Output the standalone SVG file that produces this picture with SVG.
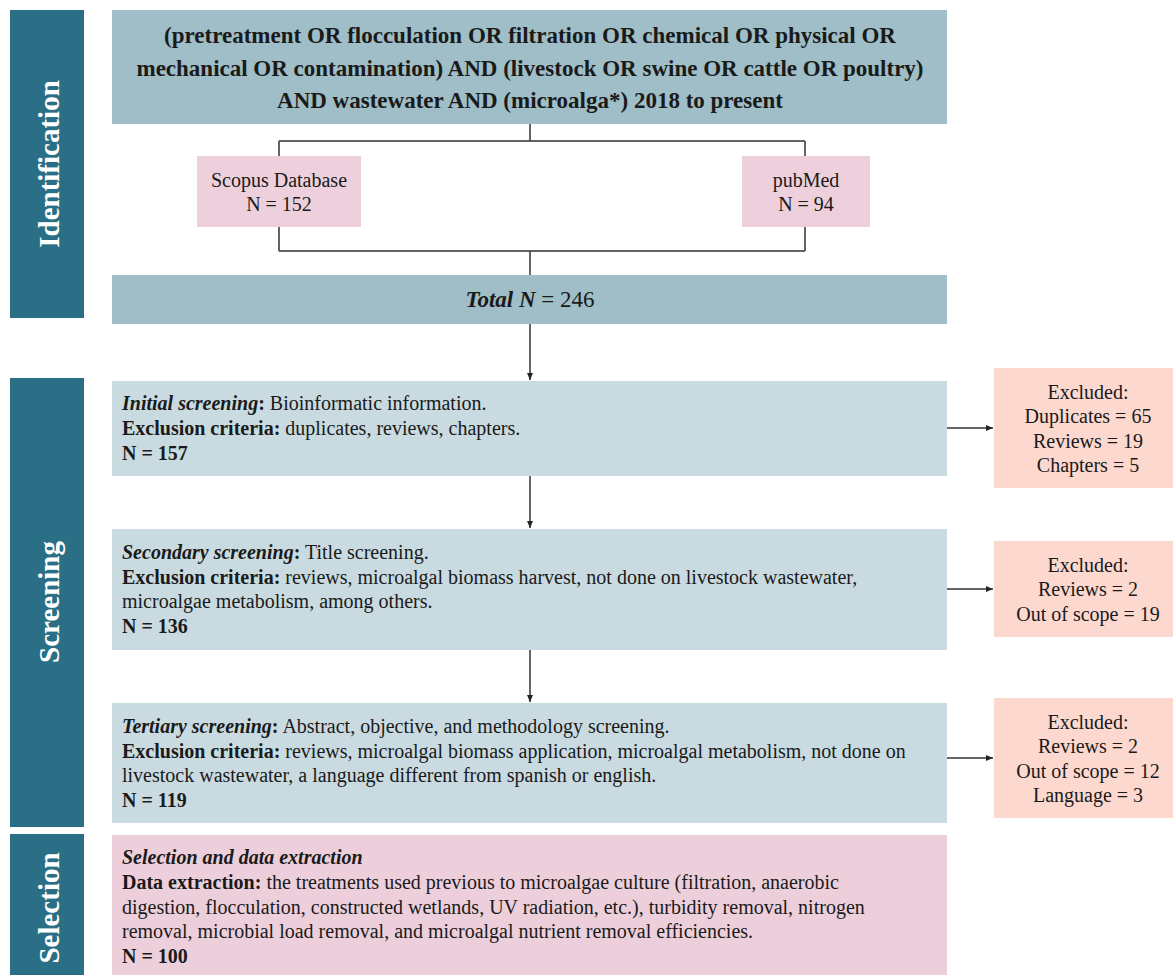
<svg xmlns="http://www.w3.org/2000/svg" width="1173" height="975" viewBox="0 0 1173 975">
<style>
.side{fill:#2a6f86}
.sidet{fill:#fff;font-family:"Liberation Serif","Times New Roman",Times,"Tinos","DejaVu Serif",serif;font-weight:bold;font-size:29px;text-anchor:middle}
.top{fill:#9fbec7}
.scr{fill:#c9dbe1}
.db{fill:#eed0dc}
.exc{fill:#fcd8cf}
.sel{fill:#edcfdb}
.t{font-family:"Liberation Serif","Times New Roman",Times,"Tinos","DejaVu Serif",serif;font-size:20px;fill:#1a1a1a}
.c{text-anchor:middle}
.b{font-weight:bold}
.bt{font-family:"Liberation Serif","Times New Roman",Times,"Tinos","DejaVu Serif",serif;font-size:23px;font-weight:bold;fill:#1a1a1a;text-anchor:middle}
.tot{font-family:"Liberation Serif","Times New Roman",Times,"Tinos","DejaVu Serif",serif;font-size:23px;fill:#1a1a1a;text-anchor:middle}
.ln{fill:none;stroke:#333;stroke-width:1.5}
</style>
<defs>
<marker id="ah" markerWidth="8" markerHeight="8" refX="7" refY="4" orient="auto" markerUnits="userSpaceOnUse">
<path d="M0,1 L7,4 L0,7 Z" fill="#222"/>
</marker>
</defs>
<rect width="1173" height="975" fill="#fff"/>

<g id="side-identification">
<rect class="side" x="10" y="10" width="74" height="308"/>
<text class="sidet" transform="translate(59,164) rotate(-90)">Identification</text>
</g>
<g id="side-screening">
<rect class="side" x="10" y="378" width="74" height="449"/>
<text class="sidet" transform="translate(59,602) rotate(-90)">Screening</text>
</g>
<g id="side-selection">
<rect class="side" x="10" y="834" width="74" height="150"/>
<text class="sidet" transform="translate(59,908) rotate(-90)">Selection</text>
</g>

<g id="connectors">
<path class="ln" d="M530,124 V141 M279,141 H805 M279,141 V156 M805,141 V156"/>
<path class="ln" d="M279,227 V251 M805,227 V251 M279,251 H805 M530,251 V275"/>
<path class="ln" d="M530,324 V380" marker-end="url(#ah)"/>
<path class="ln" d="M530,476 V528" marker-end="url(#ah)"/>
<path class="ln" d="M530,650 V702" marker-end="url(#ah)"/>
<path class="ln" d="M947,428 H993" marker-end="url(#ah)"/>
<path class="ln" d="M947,589 H993" marker-end="url(#ah)"/>
<path class="ln" d="M947,758 H993" marker-end="url(#ah)"/>
</g>

<g id="query">
<rect class="top" x="112" y="10" width="835" height="114"/>
<text class="bt" x="530" y="43">(pretreatment OR flocculation OR filtration OR chemical OR physical OR</text>
<text class="bt" x="530" y="76">mechanical OR contamination) AND  (livestock OR swine OR cattle OR poultry)</text>
<text class="bt" x="530" y="108">AND wastewater AND (microalga*) 2018 to present</text>
</g>

<g id="scopus">
<rect class="db" x="197" y="156" width="164" height="71"/>
<text class="t c" x="279" y="187">Scopus Database</text>
<text class="t c" x="279" y="211">N = 152</text>
</g>
<g id="pubmed">
<rect class="db" x="742" y="156" width="128" height="71"/>
<text class="t c" x="806" y="187">pubMed</text>
<text class="t c" x="806" y="211">N = 94</text>
</g>

<g id="total">
<rect class="top" x="112" y="275" width="835" height="49"/>
<text class="tot" x="530" y="307"><tspan font-weight="bold" font-style="italic">Total N</tspan> = 246</text>
</g>

<g id="initial">
<rect class="scr" x="112" y="381" width="835" height="95"/>
<text class="t" x="122" y="410"><tspan font-weight="bold" font-style="italic">Initial screening</tspan><tspan font-weight="bold">:</tspan> Bioinformatic information.</text>
<text class="t" x="122" y="435"><tspan font-weight="bold">Exclusion criteria:</tspan> duplicates, reviews, chapters.</text>
<text class="t b" x="122" y="460">N = 157</text>
</g>

<g id="secondary">
<rect class="scr" x="112" y="529" width="835" height="121"/>
<text class="t" x="122" y="559"><tspan font-weight="bold" font-style="italic">Secondary screening</tspan><tspan font-weight="bold">:</tspan> Title screening.</text>
<text class="t" x="122" y="584"><tspan font-weight="bold">Exclusion criteria:</tspan> reviews, microalgal biomass harvest, not done on livestock wastewater,</text>
<text class="t" x="122" y="608">microalgae metabolism, among others.</text>
<text class="t b" x="122" y="633">N = 136</text>
</g>

<g id="tertiary">
<rect class="scr" x="112" y="703" width="835" height="120"/>
<text class="t" x="122" y="733"><tspan font-weight="bold" font-style="italic">Tertiary screening</tspan><tspan font-weight="bold">:</tspan> Abstract, objective, and methodology screening.</text>
<text class="t" x="122" y="758"><tspan font-weight="bold">Exclusion criteria:</tspan> reviews, microalgal biomass application, microalgal metabolism, not done on</text>
<text class="t" x="122" y="782">livestock wastewater, a language different from spanish or english.</text>
<text class="t b" x="122" y="807">N = 119</text>
</g>

<g id="selection">
<rect class="sel" x="112" y="835" width="835" height="150"/>
<text class="t" x="122" y="864" font-weight="bold" font-style="italic">Selection and data extraction</text>
<text class="t" x="122" y="889"><tspan font-weight="bold">Data extraction:</tspan> the treatments used previous to microalgae culture (filtration, anaerobic</text>
<text class="t" x="122" y="914">digestion, flocculation, constructed wetlands, UV radiation, etc.), turbidity removal, nitrogen</text>
<text class="t" x="122" y="938">removal, microbial load removal, and microalgal nutrient removal efficiencies.</text>
<text class="t b" x="122" y="963">N = 100</text>
</g>

<g id="excluded-1">
<rect class="exc" x="994" y="368" width="190" height="120"/>
<text class="t c" x="1088" y="399">Excluded:</text>
<text class="t c" x="1088" y="423">Duplicates = 65</text>
<text class="t c" x="1088" y="448">Reviews = 19</text>
<text class="t c" x="1088" y="472">Chapters = 5</text>
</g>
<g id="excluded-2">
<rect class="exc" x="994" y="541" width="190" height="96"/>
<text class="t c" x="1088" y="572">Excluded:</text>
<text class="t c" x="1088" y="596">Reviews = 2</text>
<text class="t c" x="1088" y="621">Out of scope = 19</text>
</g>
<g id="excluded-3">
<rect class="exc" x="994" y="698" width="190" height="120"/>
<text class="t c" x="1088" y="729">Excluded:</text>
<text class="t c" x="1088" y="753">Reviews = 2</text>
<text class="t c" x="1088" y="778">Out of scope = 12</text>
<text class="t c" x="1088" y="802">Language = 3</text>
</g>
</svg>
